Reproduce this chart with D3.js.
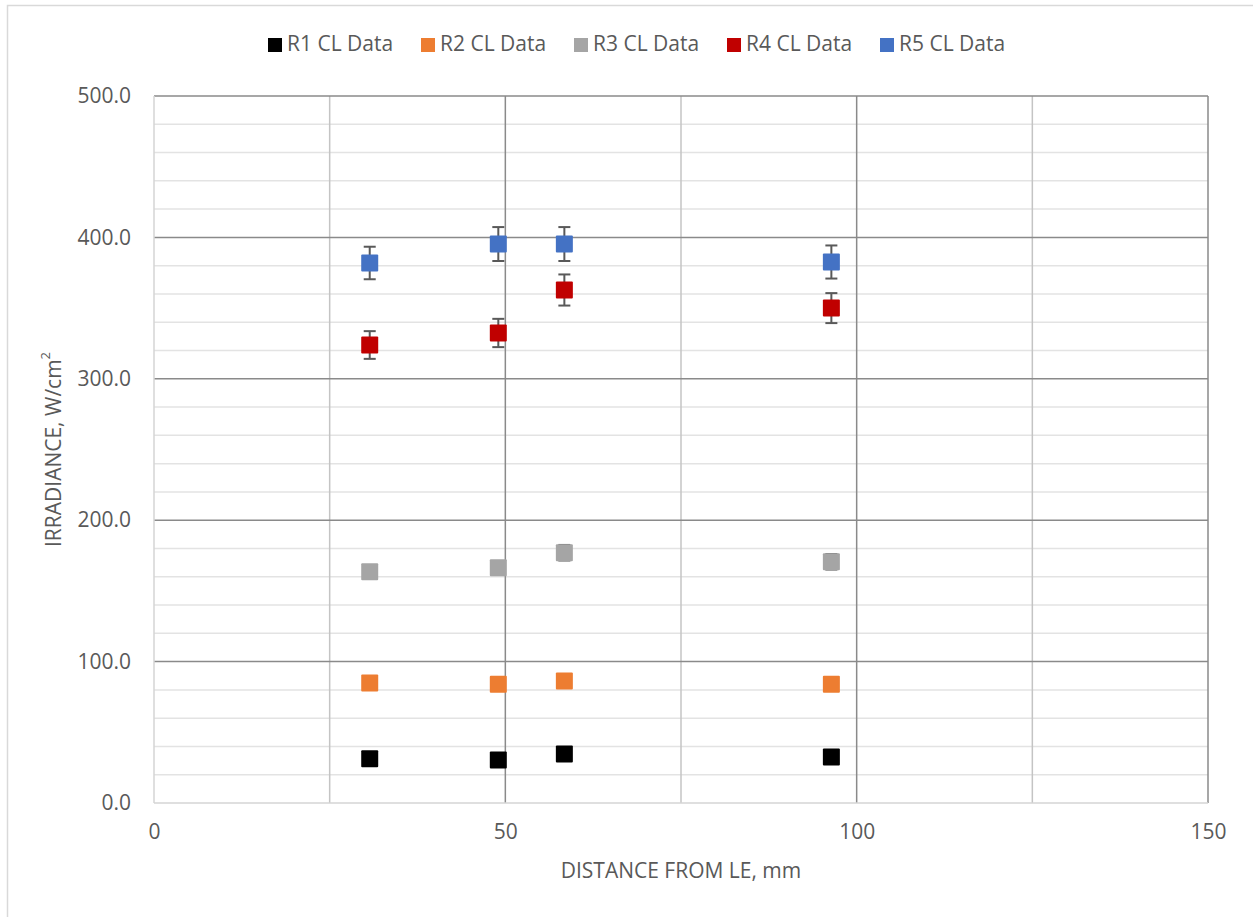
<!DOCTYPE html>
<html><head><meta charset="utf-8">
<script src="https://cdn.jsdelivr.net/npm/d3@7"></script>
<style>body{margin:0;background:#fff;} svg{display:block;} text{font-family:"Open Sans",sans-serif;fill:#595959;}</style>
</head><body>
<svg id="chart" width="1253" height="917"></svg>
<script>
const xValues = [30.7, 49.0, 58.4, 96.4];
const seriesNames = ["R1 CL Data", "R2 CL Data", "R3 CL Data", "R4 CL Data", "R5 CL Data"];
const seriesColors = ["#000000", "#ED7D31", "#A5A5A5", "#C00000", "#4472C4"];
const r1 = [31.3, 30.4, 34.7, 32.5];
const r2 = [84.9, 83.9, 86.3, 83.9];
const r3 = [163.6, 166.4, 177.0, 170.6];
const r4 = [323.9, 332.4, 362.8, 350.0];
const r5 = [381.9, 395.3, 395.3, 382.6];
const r1Err = [2, 2, 2, 2];
const r2Err = [2, 2, 2, 2];
const r3Err = [4.5, 4.5, 5.5, 5.5];
const r4Err = [9.8, 10.0, 11.0, 10.6];
const r5Err = [11.5, 12.0, 12.0, 11.7];
const xTicks = [0, 50, 100, 150];
const yTicks = [0, 100, 200, 300, 400, 500];
const xTitle = "DISTANCE FROM LE, mm";
const yTitle = "IRRADIANCE, W/cm";

const values = [r1, r2, r3, r4, r5];
const errs = [r1Err, r2Err, r3Err, r4Err, r5Err];

const svg = d3.select("#chart");
const L = 154, R = 1208, T = 96, B = 803;
const x = d3.scaleLinear().domain([0, 150]).range([L, R]);
const y = d3.scaleLinear().domain([0, 500]).range([B, T]);
const FS = "21px";

// chart border
svg.append("rect").attr("x", 7.5).attr("y", 5.5).attr("width", 1260).attr("height", 930)
  .attr("fill", "none").attr("stroke", "#d9d9d9").attr("stroke-width", 1.5);

const g = svg.append("g");
const minorY = d3.range(20, 500, 20).filter(v => v % 100 !== 0);
g.selectAll(".hmin").data(minorY).join("line")
  .attr("x1", L).attr("x2", R).attr("y1", d => y(d)).attr("y2", d => y(d))
  .attr("stroke", "#e3e3e3").attr("stroke-width", 1.5);
g.selectAll(".vmin").data([25, 75, 125]).join("line")
  .attr("x1", d => x(d)).attr("x2", d => x(d)).attr("y1", T).attr("y2", B)
  .attr("stroke", "#c4c4c4").attr("stroke-width", 1.5);
g.selectAll(".hmaj").data(yTicks.filter(v => v > 0)).join("line")
  .attr("x1", L).attr("x2", R).attr("y1", d => y(d)).attr("y2", d => y(d))
  .attr("stroke", "#8a8a8a").attr("stroke-width", 1.5);
g.selectAll(".vmaj").data(xTicks.filter(v => v > 0)).join("line")
  .attr("x1", d => x(d)).attr("x2", d => x(d)).attr("y1", T).attr("y2", B)
  .attr("stroke", "#8a8a8a").attr("stroke-width", 1.5);
g.append("line").attr("x1", L).attr("x2", R).attr("y1", B).attr("y2", B).attr("stroke", "#d4d4d4").attr("stroke-width", 1.5);
g.append("line").attr("x1", L).attr("x2", L).attr("y1", T).attr("y2", B).attr("stroke", "#d4d4d4").attr("stroke-width", 1.5);

const yAxis = d3.axisLeft(y).tickValues(yTicks).tickFormat(d3.format(".1f")).tickSize(0).tickPadding(23);
const ya = svg.append("g").attr("transform", `translate(${L},0)`).call(yAxis);
ya.select(".domain").remove();
ya.selectAll("text").style("font-size", FS).attr("fill", "#595959").style("font-family", "'Open Sans',sans-serif");

const xAxis = d3.axisBottom(x).tickValues(xTicks).tickFormat(d3.format("d")).tickSize(0).tickPadding(21);
const xa = svg.append("g").attr("transform", `translate(0,${B})`).call(xAxis);
xa.select(".domain").remove();
xa.selectAll("text").style("font-size", FS).attr("fill", "#595959").style("font-family", "'Open Sans',sans-serif");

svg.append("text").attr("x", (L + R) / 2).attr("y", 872).attr("text-anchor", "middle")
  .attr("dominant-baseline", "middle").style("font-size", FS).text(xTitle);
const yt = svg.append("text").attr("transform", `translate(55,${(T + B) / 2}) rotate(-90)`)
  .attr("text-anchor", "middle").attr("dominant-baseline", "middle").style("font-size", FS);
yt.append("tspan").text(yTitle);
yt.append("tspan").attr("dy", -8).style("font-size", "13px").text("2");

const ms = 17, cap = 6;
values.forEach((vals, si) => {
  const sg = svg.append("g");
  const pts = vals.map((v, i) => ({x: xValues[i], v, e: errs[si][i]}));
  sg.selectAll(".eb").data(pts).join("line")
    .attr("x1", d => x(d.x)).attr("x2", d => x(d.x))
    .attr("y1", d => y(d.v + d.e)).attr("y2", d => y(d.v - d.e))
    .attr("stroke", "#595959").attr("stroke-width", 2);
  sg.selectAll(".ct").data(pts).join("line")
    .attr("x1", d => x(d.x) - cap).attr("x2", d => x(d.x) + cap)
    .attr("y1", d => y(d.v + d.e)).attr("y2", d => y(d.v + d.e))
    .attr("stroke", "#595959").attr("stroke-width", 2);
  sg.selectAll(".cb").data(pts).join("line")
    .attr("x1", d => x(d.x) - cap).attr("x2", d => x(d.x) + cap)
    .attr("y1", d => y(d.v - d.e)).attr("y2", d => y(d.v - d.e))
    .attr("stroke", "#595959").attr("stroke-width", 2);
  sg.selectAll(".mk").data(pts).join("rect")
    .attr("x", d => x(d.x) - ms / 2).attr("y", d => y(d.v) - ms / 2)
    .attr("width", ms).attr("height", ms).attr("rx", 1)
    .attr("fill", seriesColors[si]);
});

const lg = svg.append("g");
seriesNames.forEach((name, i) => {
  const gx = 268 + i * 153;
  lg.append("rect").attr("x", gx).attr("y", 38).attr("width", 14).attr("height", 14).attr("fill", seriesColors[i]);
  lg.append("text").attr("x", gx + 19).attr("y", 45).attr("dominant-baseline", "middle")
    .style("font-size", FS).text(name);
});
</script>
</body></html>
